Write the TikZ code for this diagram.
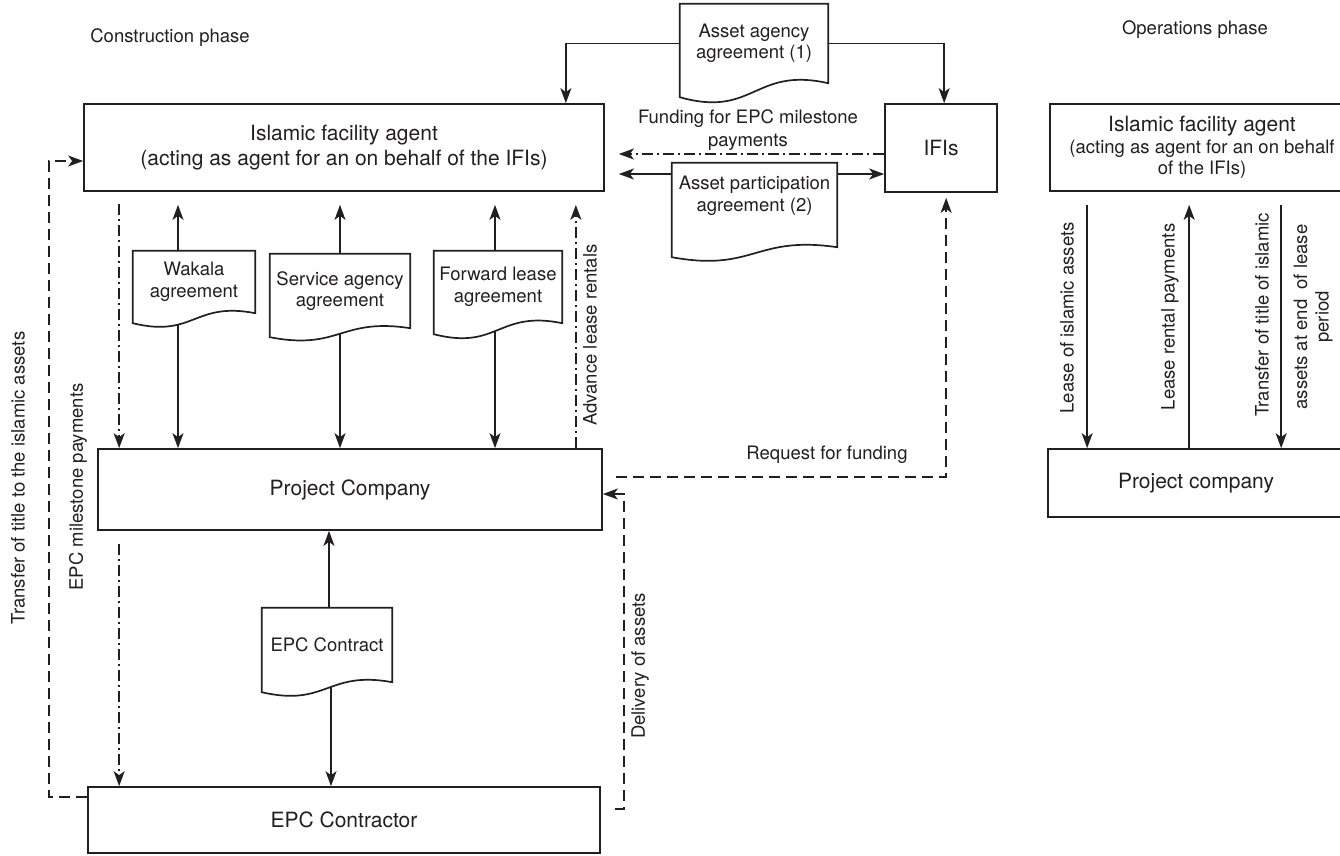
\documentclass[tikz,border=0pt]{standalone}
\usepackage{fontspec}
\setmainfont{TeX Gyre Heros}
\usetikzlibrary{arrows.meta,calc,backgrounds}
\definecolor{ink}{RGB}{35,31,32}
\newcommand\lbfont{\fontsize{18.5}{21.5}\selectfont}
\newcommand\tfont{\fontsize{21}{25}\selectfont}
% document outline: #1 node, #2 extra straight length, #3 wave depth
\newcommand\docout[3]{%
  \path[docline] let \p1=(#1.north west), \p2=(#1.south east), \n1={\x2-\x1} in
    (\x1,\y1) -- (\x2,\y1) -- (\x2,{\y2-#2})
    .. controls ({\x1+0.5*\n1},{\y2-#2-#3+2.2*#3}) and ({\x1+0.5*\n1},{\y2-#2-#3-1.5*#3}) ..
    (\x1,{\y2-#2-#3}) -- cycle;}
\begin{document}
\begin{tikzpicture}[x=1pt,y=-1pt,
  box/.style={draw=ink, line width=1.7pt, inner sep=0pt, align=center, text=ink},
  doc/.style={inner sep=0pt, align=center, text=ink, font=\lbfont},
  docline/.style={draw=ink, fill=white, line width=1.7pt},
  con/.style={draw=ink, line width=1.7pt},
  arr/.style={con, -{Stealth[length=15pt,width=11pt,inset=4pt]}},
  dd/.style={dash pattern=on 11pt off 4pt on 2pt off 4pt},
  ds/.style={dash pattern=on 11pt off 6pt},
  lbl/.style={text=ink, inner sep=0pt, font=\lbfont, align=center}]
\useasboundingbox (0,0) rectangle (1340,855);
\clip (0,0) rectangle (1340,855);

% ---- boxes
\node[box, minimum width=520pt, minimum height=87pt, font=\tfont] (ifa) at (344,147.5)
  {Islamic facility agent\\(acting as agent for an on behalf of the IFIs)};
\node[box, minimum width=112pt, minimum height=88pt, font=\tfont] (ifis) at (941,148) {IFIs};
\node[box, minimum width=504pt, minimum height=81pt, font=\tfont] (pc) at (350,489.5) {Project Company};
\node[box, minimum width=512pt, minimum height=66pt, font=\tfont] (epc) at (344,820) {EPC Contractor};
\node[box, minimum width=304pt, minimum height=87pt, font=\lbfont] (ifa2) at (1202,147.5)
  {{\tfont Islamic facility agent}\\(acting as agent for an on behalf\\of the IFIs)};
\node[box, minimum width=296pt, minimum height=68pt, font=\tfont] (pc2) at (1196,483) {Project company};

% ---- documents
\node[doc, minimum width=148pt, minimum height=79pt] (aaa) at (754,43.5) {Asset agency\\agreement (1)};
\node[doc, minimum width=165pt, minimum height=66pt] (apa) at (754.5,196) {Asset participation\\agreement (2)};
\node[doc, minimum width=122pt, minimum height=62pt] (wak) at (194,282) {Wakala\\agreement};
\node[doc, minimum width=140pt, minimum height=74pt] (svc) at (340,291) {Service agency\\agreement};
\node[doc, minimum width=128pt, minimum height=72pt] (fwd) at (498,287) {Forward lease\\agreement};
\node[doc, minimum width=130pt, minimum height=74pt] (epcc) at (327,645) {EPC Contract};

% ---- labels
\node[lbl] (lconst) at (170,38) {Construction phase};
\node[lbl] (lops) at (1195,30) {Operations phase};
\node[lbl] (lfund) at (748,130) {Funding for EPC milestone\\[2pt]payments};
\node[lbl] (lreq) at (827,455) {Request for funding};
\node[lbl, rotate=90] (ladv) at (590,335) {Advance lease rentals};
\node[lbl, rotate=90] (lmil) at (78,487) {EPC milestone payments};
\node[lbl, rotate=90] (ltit) at (18,478) {Transfer of title to the islamic assets};
\node[lbl, rotate=90] (ldel) at (640,666) {Delivery of assets};
\node[lbl, rotate=90] (llea) at (1067,318) {Lease of islamic assets};
\node[lbl, rotate=90] (lren) at (1170,317) {Lease rental payments};
\node[lbl, rotate=90] (ltr1) at (1262,315) {Transfer of title of islamic};
\node[lbl, rotate=90] (ltr2) at (1313,317) {assets at end\ \ of lease\\period};

% ---- helper coordinates
\coordinate (wakT) at ([xshift=-16pt]wak.north);
\coordinate (wakB) at ([xshift=-16pt]wak.south);
\coordinate (fwdT) at ([xshift=-3pt]fwd.north);
\coordinate (fwdB) at ([xshift=-3pt]fwd.south);
\coordinate (epT) at ([xshift=2pt]epcc.north);
\coordinate (epB) at ([xshift=4pt]epcc.south);
\coordinate (dd1) at ([xshift=36pt]ifa.south west);
\coordinate (dd2) at ([xshift=22pt]pc.south west);
\coordinate (adv) at ([xshift=-27pt]pc.north east);
\coordinate (fnd) at ([yshift=-6pt]ifis.west);
\coordinate (apL) at ([yshift=22pt]apa.west);
\coordinate (apR) at ([yshift=22pt]apa.east);
\coordinate (aaL) at ([xshift=-39pt]ifa.north east);
\coordinate (aaR) at ([xshift=60pt]ifis.north west);
\coordinate (tiS) at ([yshift=23pt]epc.west);
\coordinate (tiE) at ([yshift=-13.5pt]ifa.west);
\coordinate (deS) at ([xshift=14pt,yshift=11pt]epc.east);
\coordinate (deE) at ([yshift=-4.5pt]pc.east);
\coordinate (rqS) at ([yshift=12.5pt]pc.east);
\coordinate (rqE) at ([xshift=62pt]ifis.south west);
\coordinate (r1) at ([xshift=38pt]ifa2.south west);
\coordinate (r2) at ([xshift=142pt]pc2.north west);
\coordinate (r3) at ([xshift=232pt]ifa2.south west);

\begin{scope}[on background layer]
  % asset agency agreement
  \draw[arr] (aaa.west) -| (aaL);
  \draw[arr] (aaa.east) -| (aaR);
  % asset participation agreement
  \draw[arr, shorten >=14pt] (apL) -- (apL -| ifa.east);
  \draw[arr] (apR) -- (apR -| ifis.west);
  % funding
  \draw[arr, dd, shorten >=14pt] (fnd) -- (fnd -| ifa.east);
  % agreements between agent and project company
  \draw[arr, shorten >=13pt] (wakT) -- (wakT |- ifa.south);
  \draw[arr] (wakB) -- (wakB |- pc.north);
  \draw[arr, shorten >=13pt] (svc.north) -- (svc.north |- ifa.south);
  \draw[arr] (svc.south) -- (svc.south |- pc.north);
  \draw[arr, shorten >=13pt] (fwdT) -- (fwdT |- ifa.south);
  \draw[arr] (fwdB) -- (fwdB |- pc.north);
  % EPC contract
  \draw[arr] (epT) -- (epT |- pc.south);
  \draw[arr] (epB) -- (epB |- epc.north);
  % dash-dot flows
  \draw[arr, dd, shorten <=12pt] (dd1) -- (dd1 |- pc.north);
  \draw[arr, dd, shorten <=13pt] (dd2) -- (dd2 |- epc.north);
  \draw[arr, dd, shorten >=13pt] (adv) -- (adv |- ifa.south);
  % dashed flows
  \draw[arr, ds] (tiS) -- ++(-38,0) |- (tiE);
  \draw[arr, ds] (deS) -- ++(9,0) |- (deE);
  \draw[arr, ds, shorten <=13pt, shorten >=5pt] (rqS) -| (rqE);
  % operations phase
  \draw[arr, shorten <=13pt] (r1) -- (r1 |- pc2.north);
  \draw[arr, shorten >=13pt] (r2) -- (r2 |- ifa2.south);
  \draw[arr, shorten <=13pt] (r3) -- (r3 |- pc2.north);
  % document outlines
  \docout{aaa}{0pt}{14pt}
  \docout{apa}{18pt}{10pt}
  \docout{wak}{0pt}{10pt}
  \docout{svc}{0pt}{9pt}
  \docout{fwd}{0pt}{11pt}
  \docout{epcc}{0pt}{10pt}
\end{scope}
\end{tikzpicture}
\end{document}
